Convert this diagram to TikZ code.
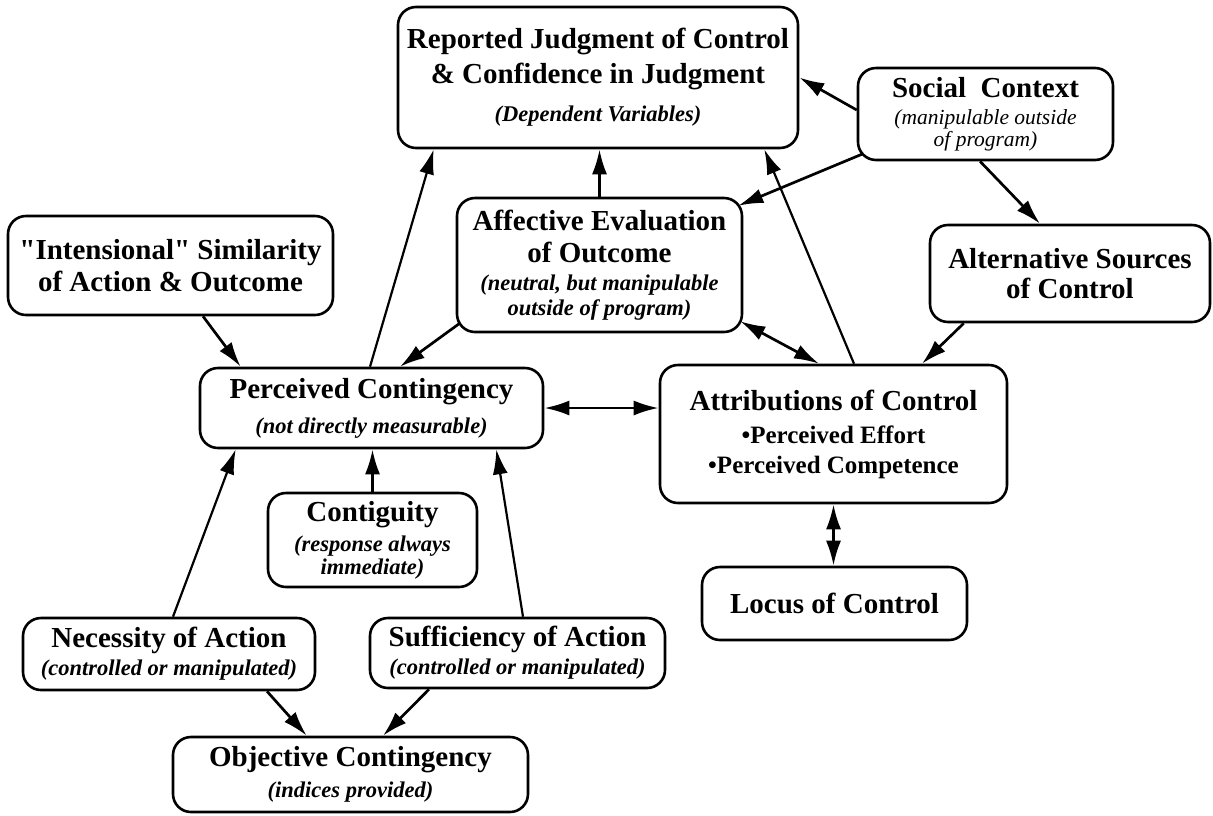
\documentclass[tikz,border=0pt]{standalone}
\usepackage{fontspec}
\setmainfont{Liberation Serif}
\usetikzlibrary{arrows.meta,calc,backgrounds}
\newcommand\Nf{\fontsize{29}{0}\selectfont\lineskiplimit=-1000pt\lineskip=0pt}
\newcommand\Hd{\fontsize{29}{0}\selectfont\bfseries}
\newcommand\Sb{\fontsize{22.5}{0}\selectfont\bfseries\itshape}
\newcommand\Li{\fontsize{21.5}{0}\selectfont\itshape}
\newcommand\Bu{\fontsize{25}{0}\selectfont\bfseries}
\newcommand\Sq{{\addfontfeatures{Ligatures=TeXOff}"}}
\begin{document}
\begin{tikzpicture}[x=1pt,y=-1pt,
  box/.style={draw, fill=white, line width=2.6pt, rounded corners=18pt, inner sep=0pt, align=center, font=\Nf},
  arr/.style={line width=2.7pt, -{Latex[length=25pt,width=15pt]}},
  darr/.style={line width=2.7pt, {Latex[length=25pt,width=15pt]}-{Latex[length=25pt,width=15pt]}},
  thinl/.style={line width=2.2pt}]
\useasboundingbox (0,0) rectangle (1213,815);

\node[box,minimum width=400pt,minimum height=141pt] (rep) at (598,77.5)
  {\Hd Reported Judgment of Control\\[35pt]\Hd \& Confidence in Judgment\\[38pt]\Sb (Dependent Variables)};
\node[box,minimum width=255pt,minimum height=92pt] (soc) at (985.5,114)
  {\Hd Social\ \ Context\\[27pt]\Li (manipulable outside\\[22pt]\Li of program)};
\node[box,minimum width=325pt,minimum height=99pt] (int) at (170.5,265.5)
  {\Hd \Sq Intensional\Sq{} Similarity\\[32pt]\Hd of Action \& Outcome};
\node[box,minimum width=285pt,minimum height=134pt] (aff) at (599.5,265)
  {\Hd Affective Evaluation\\[32pt]\Hd of Outcome\\[28pt]\Sb (neutral, but manipulable\\[25pt]\Sb outside of program)};
\node[box,minimum width=280pt,minimum height=97pt] (alt) at (1070,273.5)
  {\Hd Alternative Sources\\[30pt]\Hd of Control};
\node[box,minimum width=343pt,minimum height=80pt] (per) at (371.5,408)
  {\Hd Perceived Contingency\\[35pt]\Sb (not directly measurable)};
\node[box,minimum width=347pt,minimum height=138pt] (att) at (833.5,434)
  {\Hd Attributions of Control\\[33pt]\Bu \textbullet Perceived Effort\\[30pt]\Bu \textbullet Perceived Competence};
\node[box,minimum width=209pt,minimum height=94pt] (con) at (372.5,540)
  {\Hd Contiguity\\[30pt]\Sb (response always\\[23pt]\Sb immediate)};
\node[box,minimum width=265pt,minimum height=73pt] (loc) at (834.5,603.5)
  {\Hd Locus of Control};
\node[box,minimum width=292pt,minimum height=72pt] (nec) at (169,654)
  {\Hd Necessity of Action\\[28pt]\Sb (controlled or manipulated)};
\node[box,minimum width=295pt,minimum height=70pt] (suf) at (517.5,653)
  {\Hd Sufficiency of Action\\[28pt]\Sb (controlled or manipulated)};
\node[box,minimum width=355pt,minimum height=75pt] (obj) at (350.5,774.5)
  {\Hd Objective Contingency\\[31pt]\Sb (indices provided)};

\begin{pgfonlayer}{background}
\draw[arr] ([yshift=4pt]soc.west) -- (rep.east);
\draw[arr] ([xshift=5pt,yshift=7pt]soc.south west) -- ([xshift=-5pt,yshift=-9pt]aff.north east);
\draw[arr] ([xshift=-5.5pt]soc.south) -- ([xshift=-30pt]alt.north);
\draw[arr] (aff.north) -- (aff.north |- rep.south);
\draw[arr,thinl] ([xshift=-1.5pt]per.north) -- ([xshift=37pt]rep.south west);
\draw[arr,thinl] ([xshift=20.5pt]att.north) -- ([xshift=-35pt]rep.south east);
\draw[arr] ([xshift=4pt,yshift=10pt]aff.south west) -- ([xshift=28.5pt]per.north);
\draw[arr] ([xshift=32.5pt]int.south) -- ([xshift=42pt]per.north west);
\draw[darr] (per.east) -- (per.east -| att.west);
\draw[darr] ([xshift=-3pt,yshift=12pt]aff.south east) -- ([xshift=-14.5pt]att.north);
\draw[arr] ([xshift=35pt]alt.south west) -- ([xshift=88.5pt]att.north);
\draw[darr] (att.south) -- (att.south |- loc.north);
\draw[arr] (con.north) -- (con.north |- per.south);
\draw[arr,thinl] ([xshift=4pt]nec.north) -- ([xshift=37pt]per.south west);
\draw[arr,thinl] ([xshift=5.5pt]suf.north) -- ([xshift=-48pt]per.south east);
\draw[arr] ([xshift=98pt]nec.south) -- ([xshift=135pt]obj.north west);
\draw[arr] ([xshift=-88.5pt]suf.south) -- ([xshift=32.5pt]obj.north);
\end{pgfonlayer}
\end{tikzpicture}
\end{document}
